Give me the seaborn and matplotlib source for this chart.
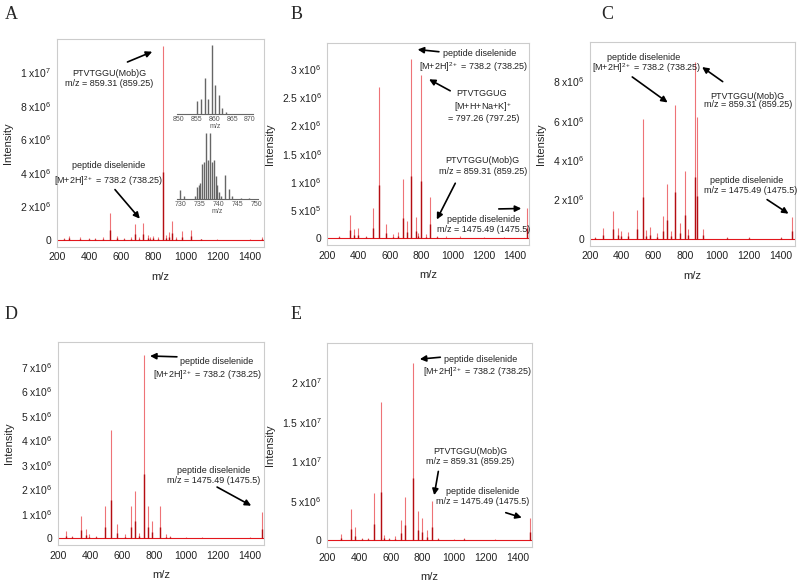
import matplotlib
matplotlib.use("Agg")
import matplotlib.pyplot as plt
import numpy as np
import seaborn as sns

sns.set_theme(style="white")
plt.rcParams['font.family'] = ['Liberation Sans', 'DejaVu Sans']
plt.rcParams['mathtext.fontset'] = 'custom'
plt.rcParams['mathtext.rm'] = 'Liberation Sans'
plt.rcParams['mathtext.it'] = 'Liberation Sans'

# peak lists, m/z and intensity (x1e6)
A_mz = [245, 275, 345, 400, 440, 490, 530, 575, 620, 660, 685, 710, 738, 765, 780, 797, 830, 859, 880, 900, 920, 945, 980, 1035, 1100, 1200, 1400, 1475]
A_int = [0.1, 0.25, 0.2, 0.1, 0.12, 0.15, 1.62, 0.25, 0.12, 0.2, 0.95, 0.2, 1.0, 0.3, 0.2, 0.25, 0.2, 11.6, 0.3, 0.45, 1.14, 0.2, 0.55, 0.6, 0.08, 0.06, 0.05, 0.2]

B_mz = [275, 345, 370, 394, 450, 490, 530, 573, 620, 650, 686, 707, 738, 765, 780, 797, 830, 859, 900, 960, 1050, 1200, 1330, 1475]
B_int = [0.05, 0.41, 0.16, 0.19, 0.05, 0.53, 2.68, 0.25, 0.08, 0.12, 1.05, 0.3, 3.18, 0.37, 0.1, 2.9, 0.08, 0.74, 0.05, 0.04, 0.04, 0.03, 0.03, 0.53]

C_mz = [230, 284, 347, 374, 393, 441, 494, 531, 550, 578, 620, 657, 682, 710, 738, 766, 797, 820, 859, 871, 913, 1060, 1200, 1400, 1475]
C_int = [0.1, 0.53, 1.4, 0.53, 0.4, 0.37, 1.45, 6.1, 0.45, 0.62, 0.3, 1.17, 2.8, 0.4, 6.8, 0.78, 3.45, 0.5, 8.97, 6.16, 0.5, 0.08, 0.1, 0.08, 1.12]

D_mz = [252, 285, 346, 373, 394, 440, 492, 530, 571, 620, 655, 680, 710, 738, 764, 791, 837, 878, 900, 1000, 1100, 1400, 1475]
D_int = [0.29, 0.1, 0.9, 0.36, 0.16, 0.1, 1.31, 4.4, 0.56, 0.15, 1.31, 1.94, 0.2, 7.47, 1.31, 0.7, 1.31, 0.15, 0.1, 0.05, 0.05, 0.05, 1.07]

E_mz = [284, 347, 378, 420, 460, 494, 536, 557, 590, 630, 662, 687, 738, 771, 794, 829, 859, 900, 1000, 1060, 1260, 1475]
E_int = [0.72, 3.9, 1.6, 0.3, 0.3, 6.0, 17.5, 0.7, 0.3, 0.5, 2.6, 5.5, 22.5, 3.7, 2.8, 1.3, 4.9, 0.3, 0.2, 0.25, 0.2, 2.8]

# isotope insets of panel A (relative intensity)
ins1_mz = [855.3, 856.3, 857.3, 858.3, 859.3, 860.3, 861.3, 862.3, 863.3]
ins1_int = [0.19, 0.22, 0.52, 0.21, 1.0, 0.42, 0.27, 0.09, 0.02]
ins2_mz = [730.0, 730.9, 733.9, 734.4, 734.9, 735.3, 735.8, 736.3, 736.8, 737.3, 737.8, 738.3,
           738.8, 739.3, 739.7, 740.2, 740.8, 741.8, 742.8, 743.7, 746.0, 748.0]
ins2_int = [0.13, 0.04, 0.05, 0.19, 0.22, 0.24, 0.54, 0.57, 1.0, 0.59, 1.0, 0.57,
            0.59, 0.35, 0.22, 0.11, 0.05, 0.37, 0.15, 0.05, 0.02, 0.02]

# yticks per panel
A_ticks = [0, 2e6, 4e6, 6e6, 8e6, 1e7]
B_ticks = [0, 5e5, 1e6, 1.5e6, 2e6, 2.5e6, 3e6]
C_ticks = [0, 2e6, 4e6, 6e6, 8e6]
D_ticks = [0, 1e6, 2e6, 3e6, 4e6, 5e6, 6e6, 7e6]
E_ticks = [0, 5e6, 1e7, 1.5e7, 2e7]

RED = '#e3161c'
FS = 6.5


def sci_label(v):
    if v == 0:
        return "0"
    e = int(np.floor(np.log10(v) + 1e-9))
    m = v / 10 ** e
    return rf"{m:g} x10$^{{{e}}}$"


def spectrum(ax, mz, inten, ticks, ytop):
    mz = np.array(mz)
    inten = np.array(inten) * 1e6
    ax.axhline(0, color=RED, lw=0.8)
    ax.vlines(mz, 0, inten, color=RED, lw=0.8, alpha=0.6)
    ax.vlines(mz, 0, inten * 0.35, color='#b50d12', lw=1.0)
    ax.set_xlim(200, 1490)
    ax.set_ylim(-0.035 * ytop, ytop)
    ax.set_xticks([200, 400, 600, 800, 1000, 1200, 1400])
    ax.set_yticks(ticks)
    ax.set_yticklabels([sci_label(t) for t in ticks])
    ax.tick_params(length=0, labelsize=7.5, pad=4, colors='#222222')
    for s in ax.spines.values():
        s.set_color('#cccccc')
        s.set_linewidth(0.8)
    ax.set_xlabel("m/z", fontsize=8, labelpad=7)
    ax.set_ylabel("Intensity", fontsize=8, labelpad=5)


def note(ax, x, y, lines, gap):
    for i, t in enumerate(lines):
        ax.text(x, y - i * gap, t, ha='center', va='center', fontsize=FS, color='#222222')


def arrow(ax, x0, y0, x1, y1):
    ax.annotate("", xy=(x1, y1), xytext=(x0, y0),
                arrowprops=dict(arrowstyle='-|>', color='black', lw=1.2, mutation_scale=9))


fig = plt.figure(figsize=(8, 5.81), dpi=100)
axA = fig.add_axes([0.071, 0.575, 0.259, 0.358])
axB = fig.add_axes([0.409, 0.578, 0.2525, 0.348])
axC = fig.add_axes([0.7375, 0.577, 0.256, 0.351])
axD = fig.add_axes([0.0725, 0.062, 0.2575, 0.349])
axE = fig.add_axes([0.409, 0.0585, 0.256, 0.3515])

spectrum(axA, A_mz, A_int, A_ticks, 1.2e7)
spectrum(axB, B_mz, B_int, B_ticks, 3.46e6)
spectrum(axC, C_mz, C_int, C_ticks, 1.0e7)
spectrum(axD, D_mz, D_int, D_ticks, 8.0e6)
spectrum(axE, E_mz, E_int, E_ticks, 2.5e7)

sup2 = r"[M+2H]$^{2+}$ = 738.2 (738.25)"

# A
note(axA, 524e0, 9.96e6, ["PTVTGGU(Mob)G", "m/z = 859.31 (859.25)"], 0.6e6)
arrow(axA, 624, 10.56e6, 810, 11.3e6)
note(axA, 520, 4.43e6, ["peptide diselenide", sup2], 0.9e6)
arrow(axA, 551, 3.13e6, 728, 1.14e6)

# B
note(axB, 1171, 3.28e6, ["peptide diselenide"], 0)
note(axB, 1135, 3.03e6, [sup2], 0)
arrow(axB, 931, 3.3e6, 760, 3.35e6)
note(axB, 1185, 2.56e6, ["PTVTGGUG"], 0)
note(axB, 1197, 2.33e6, [r"[M+H+Na+K]$^{+}$"], 0)
note(axB, 1197, 2.13e6, ["= 797.26 (797.25)"], 0)
arrow(axB, 1001, 2.59e6, 835, 2.84e6)
note(axB, 1193, 1.37e6, ["PTVTGGU(Mob)G", "m/z = 859.31 (859.25)"], 0.18e6)
arrow(axB, 1026, 1.02e6, 892, 0.29e6)
note(axB, 1197, 0.34e6, ["peptide diselenide", "m/z = 1475.49 (1475.5)"], 0.175e6)
arrow(axB, 1278, 0.52e6, 1457, 0.53e6)

# C
note(axC, 536, 9.2e6, ["peptide diselenide"], 0)
note(axC, 557, 8.68e6, [sup2], 0)
arrow(axC, 452, 8.3e6, 703, 6.84e6)
note(axC, 1194, 7.21e6, ["PTVTGGU(Mob)G", "m/z = 859.31 (859.25)"], 0.4e6)
arrow(axC, 1050, 7.9e6, 892, 8.8e6)
note(axC, 1186, 2.95e6, ["peptide diselenide"], 0)
note(axC, 1212, 2.48e6, ["m/z = 1475.49 (1475.5)"], 0)
arrow(axC, 1301, 2.07e6, 1465, 1.2e6)

# D
arrow(axD, 962, 7.4e6, 759, 7.44e6)
note(axD, 1195, 7.21e6, ["peptide diselenide"], 0)
note(axD, 1139, 6.64e6, [sup2], 0)
note(axD, 1175, 2.75e6, ["peptide diselenide", "m/z = 1475.49 (1475.5)"], 0.4e6)
arrow(axD, 1181, 2.14e6, 1425, 1.27e6)

# E
arrow(axE, 930, 23.2e6, 766, 22.9e6)
note(axE, 1165, 22.9e6, ["peptide diselenide"], 0)
note(axE, 1148, 21.3e6, [sup2], 0)
note(axE, 1102, 11.2e6, ["PTVTGGU(Mob)G", "m/z = 859.31 (859.25)"], 1.3e6)
arrow(axE, 903, 9.05e6, 871, 5.35e6)
note(axE, 1176, 6.1e6, ["peptide diselenide", "m/z = 1475.49 (1475.5)"], 1.26e6)
arrow(axE, 1308, 3.58e6, 1442, 2.74e6)

# insets in A
for rect, mz, inten, xl, xt in [
        ([0.221, 0.804, 0.095, 0.121], ins1_mz, ins1_int, (849.5, 870.8), [850, 855, 860, 865, 870]),
        ([0.221, 0.6575, 0.101, 0.115], ins2_mz, ins2_int, (729.1, 750.3), [730, 735, 740, 745, 750])]:
    ins = fig.add_axes(rect)
    ins.patch.set_alpha(0)
    ins.vlines(mz, 0, inten, color='#666666', lw=1.0)
    ins.set_xlim(*xl)
    ins.set_ylim(0, 1.02)
    ins.set_xticks(xt)
    ins.set_yticks([])
    ins.tick_params(length=0, labelsize=5, pad=1.5, colors='#555555')
    for k, s in ins.spines.items():
        s.set_visible(k == 'bottom')
    ins.spines['bottom'].set_color('#666666')
    ins.spines['bottom'].set_linewidth(0.8)
    ins.set_xlabel("m/z", fontsize=5, labelpad=0, color='#555555')

# panel letters
for x, y, t in [(0.006, 0.975, "A"), (0.363, 0.975, "B"), (0.752, 0.975, "C"),
                (0.006, 0.458, "D"), (0.363, 0.458, "E")]:
    fig.text(x, y, t, fontsize=13, family='Liberation Serif', va='center', ha='left')

fig.savefig("out.png", dpi=100)
